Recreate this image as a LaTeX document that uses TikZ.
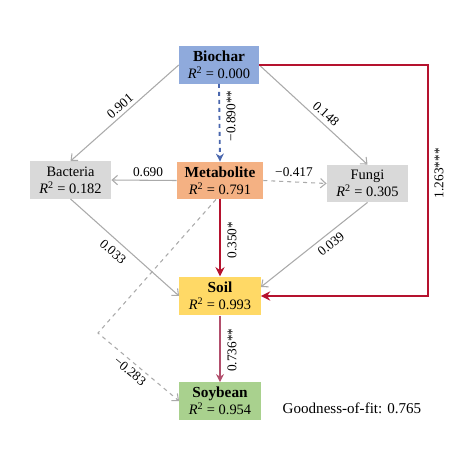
\documentclass[tikz,border=0pt]{standalone}
\usepackage{fontspec}
\setmainfont{Liberation Serif}
\usetikzlibrary{arrows.meta,calc}
\definecolor{cbio}{HTML}{8FAADC}
\definecolor{cmet}{HTML}{F4B183}
\definecolor{csoil}{HTML}{FFD966}
\definecolor{csoy}{HTML}{A9D18E}
\definecolor{cgbox}{HTML}{D9D9D9}
\definecolor{cgline}{HTML}{AAAAAA}
\definecolor{cred}{HTML}{B5122E}
\definecolor{cpink}{HTML}{B24E6C}
\definecolor{cblue}{HTML}{4A67AE}
\tikzset{
  box/.style={minimum width=61pt,minimum height=28pt,inner sep=0pt,align=center,font=\fontsize{10.8}{13}\selectfont},
  gline/.style={draw=cgline,line width=0.8pt,-{Straight Barb[length=4pt,width=7pt]}},
  gdash/.style={gline,dashed},
  rline/.style={draw=cred,line width=1.6pt,-{Stealth[length=7pt,width=7pt]}},
  lab/.style={font=\fontsize{10}{12}\selectfont,inner sep=1pt},
}
\newcommand{\rsq}[1]{\textit{R}\textsuperscript{2} = #1}
\begin{document}
\begin{tikzpicture}[x=0.75pt,y=-0.75pt]
\useasboundingbox (0,0) rectangle (468,464);
\node[box,fill=cbio,minimum width=60pt] (bio) at (219,65) {\textbf{\fontsize{11.5}{13}\selectfont Biochar}\\\rsq{0.000}};
\node[box,fill=cmet,minimum width=64.5pt] (met) at (220,180.5) {\textbf{\fontsize{11.5}{13}\selectfont Metabolite}\\\rsq{0.791}};
\node[box,fill=cgbox] (bac) at (70.5,180) {Bacteria\\\rsq{0.182}};
\node[box,fill=cgbox] (fun) at (367.5,183.5) {Fungi\\\rsq{0.305}};
\node[box,fill=csoil,minimum height=29pt] (soil) at (220,296) {\textbf{\fontsize{11.5}{13}\selectfont Soil}\\\rsq{0.993}};
\node[box,fill=csoy] (soy) at (220,401) {\textbf{\fontsize{11.5}{13}\selectfont Soybean}\\\rsq{0.954}};
\coordinate (rc1) at (428,65);
\coordinate (rc2) at (428,296);
\coordinate (elb) at (98,333);
% connectors
\draw[gline] (bio.west) -- (bac.north);
\draw[gline] (bio.east) -- (fun.north);
\draw[draw=cblue,line width=1.4pt,dashed,-{Stealth[length=6pt,width=6pt]}] (bio.south) -- (met.north);
\draw[gline] (met.west) -- (bac.east);
\draw[gdash] (met.east) -- (fun.west);
\draw[gline] (bac.south) -- (soil.west);
\draw[gline] (fun.south) -- ($(soil.east)+(0,-9)$);
\draw[rline] (met.south) -- (soil.north);
\draw[rline] (bio.east) -- (rc1) -- (rc2) -- (soil.east);
\draw[draw=cpink,line width=1.4pt,-{Stealth[length=6pt,width=6pt]}] (soil.south) -- (soy.north);
\draw[gdash] ($(met.south)+(-4,0)$) -- (elb) -- (soy.west);
% labels
\node[lab,rotate=41] (l1) at (120,106) {0.901};
\node[lab,rotate=-42] (l2) at (326,114) {0.148};
\node[lab,rotate=90] (l3) at (231,116) {−0.890**};
\node[lab] (l4) at (148,172) {0.690};
\node[lab] (l5) at (294,172) {−0.417};
\node[lab,rotate=90] (l6) at (232,240) {0.350*};
\node[lab,rotate=-41] (l7) at (113,252) {0.033};
\node[lab,rotate=39] (l8) at (331,244) {0.039};
\node[lab,rotate=-40] (l9) at (130,371) {−0.283};
\node[lab,rotate=90] (l10) at (232,350) {0.736**};
\node[lab,rotate=90] (l11) at (439,173) {1.263***};
\node[font=\fontsize{11.3}{13}\selectfont,inner sep=0pt] (gof) at (352,408) {Goodness-of-fit: 0.765};
\end{tikzpicture}
\end{document}
